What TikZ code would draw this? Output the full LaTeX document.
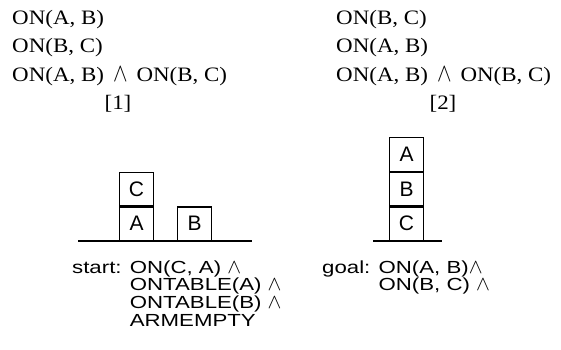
\documentclass[tikz,border=0pt]{standalone}
\usepackage{fontspec}
\usepackage{graphicx}
\newfontfamily\serf[FakeStretch=1.12]{Liberation Serif}
\newfontfamily\sanf[FakeStretch=1.27]{Liberation Sans}
\newfontfamily\boxf{Liberation Sans}
\newcommand\serand{\scalebox{1.05}[1.25]{$\wedge$}}
\newcommand\sanand{{\fontsize{20}{17.5}\selectfont$\wedge$}}
\begin{document}
\begin{tikzpicture}[x=1pt,y=-1pt,
  blk/.style={draw, line width=1.1pt, minimum width=34pt, minimum height=33.5pt, inner sep=0pt,
    font=\boxf\fontsize{21}{21}\selectfont, anchor=south west},
  ground/.style={line width=1.4pt},
  sertxt/.style={inner sep=0pt, anchor=base west, font=\serf\fontsize{20.5}{28.5}\selectfont},
  santxt/.style={inner sep=0pt, anchor=base west, font=\sanf\fontsize{17.5}{17.5}\selectfont}]
\useasboundingbox (0,0) rectangle (561,349);
% top formulas
\node[sertxt] (left) at (12,24) {\begin{tabular}[t]{@{}l@{}}ON(A, B)\\ON(B, C)\\ON(A, B)\hspace{9pt}\serand\hspace{9pt}ON(B, C)\end{tabular}};
\node[sertxt, anchor=base] (n1) at (118,109) {[1]};
\node[sertxt] (right) at (336,24) {\begin{tabular}[t]{@{}l@{}}ON(B, C)\\ON(A, B)\\ON(A, B)\hspace{9pt}\serand\hspace{9pt}ON(B, C)\end{tabular}};
\node[sertxt, anchor=base] (n2) at (443,109) {[2]};
% start state
\draw[ground] (78,241) -- (252,241);
\node[blk] (lA) at (119,241) {A};
\node[blk] (lC) at (lA.north west) {C};
\node[blk] (lB) at (177,241) {B};
\node[santxt] (start) at (72,273) {\begin{tabular}[t]{@{}l@{ }l@{}}start: & ON(C, A) \sanand\\ & ONTABLE(A) \sanand\\ & ONTABLE(B) \sanand\\ & ARMEMPTY\end{tabular}};
% goal state
\draw[ground] (373,241) -- (442,241);
\node[blk] (rC) at (389,241) {C};
\node[blk] (rB) at (rC.north west) {B};
\node[blk] (rA) at (rB.north west) {A};
\node[santxt] (goal) at (322,273) {\begin{tabular}[t]{@{}l@{ }l@{}}goal: & ON(A, B)\sanand\\ & ON(B, C) \sanand\end{tabular}};
\end{tikzpicture}
\end{document}
